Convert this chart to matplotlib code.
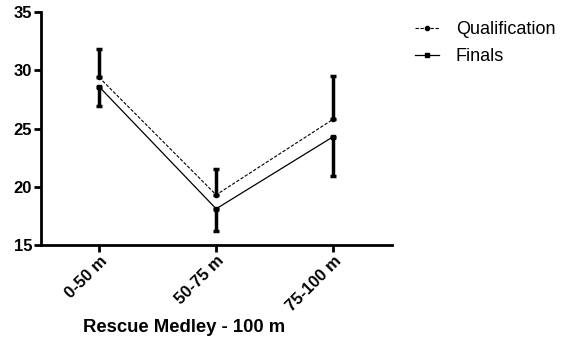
import matplotlib
matplotlib.use("Agg")
import matplotlib.pyplot as plt
from matplotlib.lines import Line2D

plt.rcParams['font.family'] = ['Liberation Sans', 'DejaVu Sans']

# split times (s) for each 25/50 m section
sections = ['0-50 m', '50-75 m', '75-100 m']
qual_mean = [29.4, 19.3, 25.8]
qual_sd = [2.4, 2.2, 3.7]
final_mean = [28.6, 18.1, 24.3]
final_sd = [1.7, 1.9, 3.4]

fig = plt.figure(figsize=(5.73, 3.58), dpi=100)
ax = fig.add_axes([0.0707, 0.316, 0.613, 0.650])

x = list(range(len(sections)))
qual_style = dict(color='black', lw=0.8, ls=(0, (3, 1.5)), marker='o', ms=3)
final_style = dict(color='black', lw=0.9, ls='-', marker='s', ms=3.5)

# one-sided error bars: SD upward for qualification, downward for finals
ax.errorbar(x, qual_mean, yerr=[[0] * 3, qual_sd], elinewidth=2.5,
            capsize=2.5, capthick=2.5, **qual_style)
ax.errorbar(x, final_mean, yerr=[final_sd, [0] * 3], elinewidth=2.5,
            capsize=2.5, capthick=2.5, **final_style)

ax.set_xlim(-0.5, 2.5)
ax.set_ylim(15, 35)
ax.set_yticks([15, 20, 25, 30, 35])
ax.set_xticks(x)
ax.set_xticklabels(sections, rotation=45, ha='right', rotation_mode='anchor',
                   fontweight='bold', fontsize=12)
for lab in ax.get_yticklabels():
    lab.set_fontweight('bold')
    lab.set_fontsize(12)

for side in ['top', 'right']:
    ax.spines[side].set_visible(False)
for side in ['left', 'bottom']:
    ax.spines[side].set_linewidth(2)
ax.tick_params(width=2, length=5, pad=1)

ax.set_xlabel('Rescue Medley - 100 m', fontweight='bold', fontsize=13.3,
              labelpad=3)
ax.xaxis.set_label_coords(0.41, -0.32)

handles = [Line2D([], [], **qual_style), Line2D([], [], **final_style)]
ax.legend(handles, ['Qualification', 'Finals'], loc='upper left',
          bbox_to_anchor=(1.02, 1.03), frameon=False, fontsize=13,
          handlelength=1.3, handletextpad=0.95, labelspacing=0.55)

fig.savefig('out.png', dpi=100)
